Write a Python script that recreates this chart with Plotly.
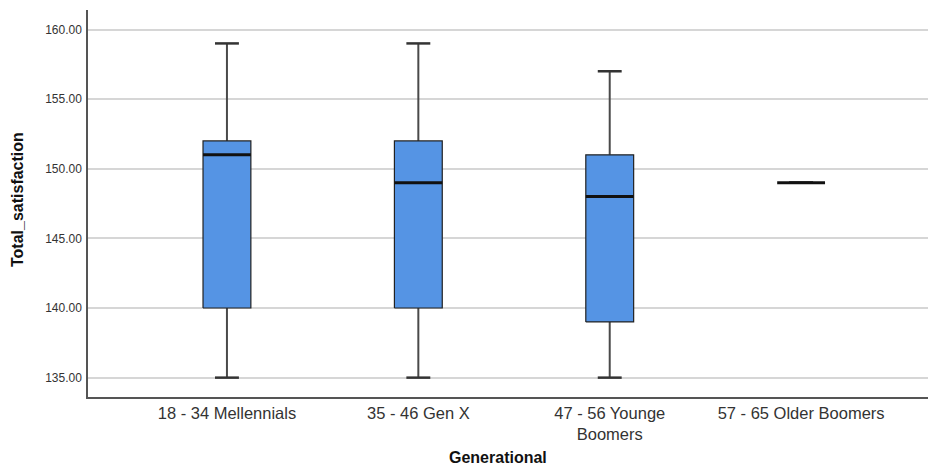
import plotly.graph_objects as go

categories = ["18 - 34 Mellennials", "35 - 46 Gen X", "47 - 56 Younge<br>Boomers", "57 - 65 Older Boomers"]
mins = [135, 135, 135, 149]
q1s = [140, 140, 139, 149]
medians = [151, 149, 148, 149]
q3s = [152, 152, 151, 149]
maxs = [159, 159, 157, 149]
y_ticks = [135, 140, 145, 150, 155, 160]

BOX_FILL = "#5594e4"
WHISKER = "#4a4a4a"
HALF_W = 0.125
CAP_HALF = 0.0625
FONT = "Arial, Liberation Sans, sans-serif"
TICK_SIZE = 16.5

fig = go.Figure()

for i in range(len(categories)):
    lo, a, m, b, hi = mins[i], q1s[i], medians[i], q3s[i], maxs[i]
    fig.add_trace(go.Scatter(x=[i, i, None, i, i], y=[lo, a, None, b, hi], mode="lines",
                             line=dict(color=WHISKER, width=2), hoverinfo="skip", showlegend=False))
    fig.add_trace(go.Scatter(x=[i - CAP_HALF, i + CAP_HALF, None, i - CAP_HALF, i + CAP_HALF],
                             y=[lo, lo, None, hi, hi], mode="lines",
                             line=dict(color="#333333", width=2.5), hoverinfo="skip", showlegend=False))
    if b > a:
        fig.add_trace(go.Scatter(x=[i - HALF_W, i + HALF_W, i + HALF_W, i - HALF_W, i - HALF_W],
                                 y=[a, a, b, b, a], mode="lines", fill="toself", fillcolor=BOX_FILL,
                                 line=dict(color="#222222", width=1.2), hoverinfo="skip", showlegend=False))
    fig.add_trace(go.Scatter(x=[i - HALF_W, i + HALF_W], y=[m, m], mode="lines",
                             line=dict(color="#111111", width=3), hoverinfo="skip", showlegend=False))

L, R, T, B = 88, 0, 10, 69
W, H = 928, 466
plot_w = W - L - R
plot_h = H - T - B

def px_to_paper(px, py):
    return (px - L) / plot_w, (H - B - py) / plot_h

annotations = []
gx, gy = px_to_paper(498, 458)
annotations.append(dict(text="<b>Generational</b>", x=gx, y=gy, xref="paper", yref="paper",
                        showarrow=False, xanchor="center", yanchor="middle",
                        font=dict(size=16, color="#111111")))
tx, ty = px_to_paper(18, 200)
annotations.append(dict(text="<b>Total_satisfaction</b>", textangle=-90, x=tx, y=ty, xref="paper", yref="paper",
                        showarrow=False, xanchor="center", yanchor="middle",
                        font=dict(size=16, color="#111111")))

fig.update_layout(
    width=W, height=H,
    margin=dict(l=L, r=R, t=T, b=B),
    paper_bgcolor="white", plot_bgcolor="white",
    font=dict(family=FONT, color="#222222"),
    xaxis=dict(
        range=[-0.726, 3.663],
        tickmode="array", tickvals=list(range(len(categories))), ticktext=categories,
        tickfont=dict(size=TICK_SIZE, color="#333333"),
        showgrid=False, zeroline=False,
        showline=True, linecolor="#555555", linewidth=1.5,
        ticks="",
    ),
    yaxis=dict(
        range=[133.61, 161.4],
        tickmode="array", tickvals=y_ticks, ticktext=[f"{v:.2f}" for v in y_ticks],
        tickfont=dict(size=12, color="#333333"),
        showgrid=True, gridcolor="#d6d6d6", gridwidth=1.5,
        zeroline=False,
        showline=True, linecolor="#555555", linewidth=1.5,
        ticks="", ticklabelstandoff=2,
    ),
    annotations=annotations,
)

fig.write_html("out.html")
